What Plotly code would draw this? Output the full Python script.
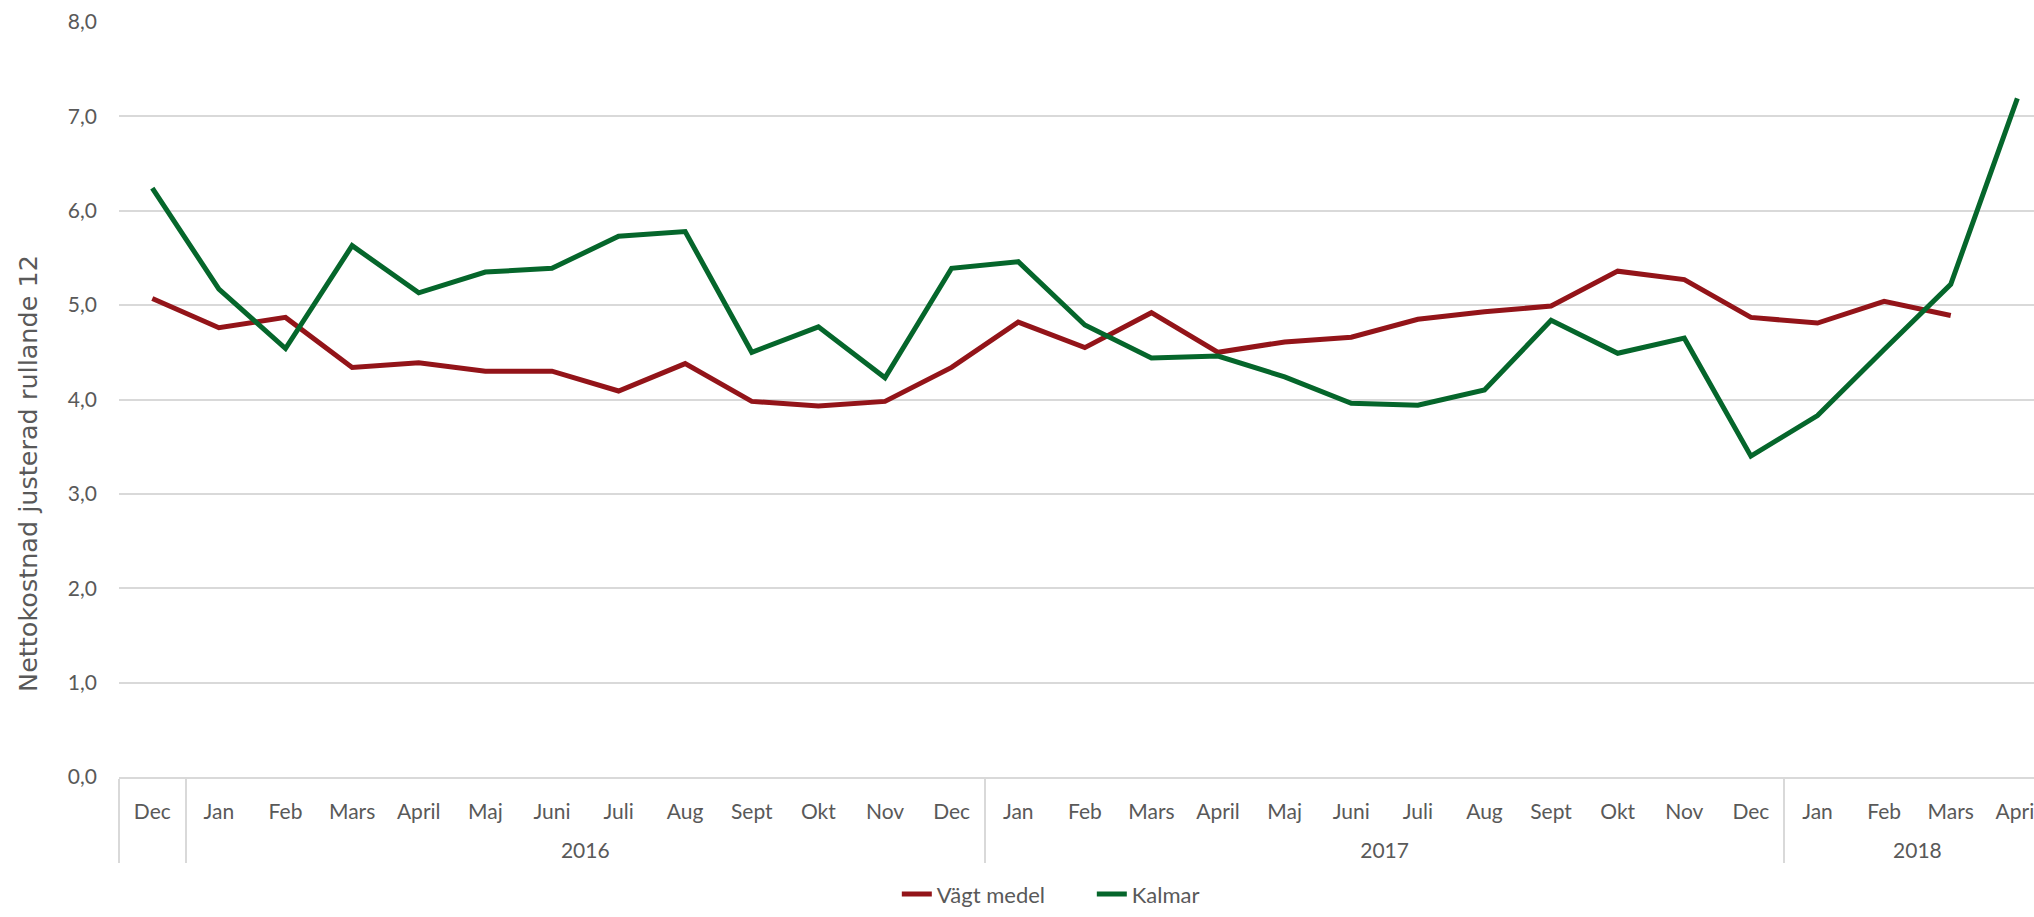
import plotly.graph_objects as go

years = [" "] + ["2016"] * 12 + ["2017"] * 12 + ["2018"] * 4
months = ["\u200bDec",
          "Jan", "Feb", "Mars", "April", "Maj", "Juni", "Juli", "Aug", "Sept", "Okt", "Nov", "Dec",
          "Jan", "Feb", "Mars", "April", "Maj", "Juni", "Juli", "Aug", "Sept", "Okt", "Nov", "Dec",
          "Jan", "Feb", "Mars", "April"]

vagt_medel = [5.07, 4.76, 4.87, 4.34, 4.39, 4.30, 4.30, 4.09, 4.38, 3.98, 3.93, 3.98, 4.34,
              4.82, 4.55, 4.92, 4.50, 4.61, 4.66, 4.85, 4.93, 4.99, 5.36, 5.27, 4.87,
              4.81, 5.04, 4.89, None]
kalmar = [6.24, 5.17, 4.54, 5.63, 5.13, 5.35, 5.39, 5.73, 5.78, 4.50, 4.77, 4.23, 5.39,
          5.46, 4.79, 4.44, 4.46, 4.24, 3.96, 3.94, 4.10, 4.84, 4.49, 4.65, 3.40,
          3.83, 4.53, 5.22, 7.19]

y_ticks = [0, 1, 2, 3, 4, 5, 6, 7, 8]

RED = "#931419"
GREEN = "#05662b"
TXT = "#595959"
GRID = "#d9d9d9"
NARROW = "Lato, 'Liberation Sans Narrow', sans-serif"
WIDE = "'DejaVu Sans', Verdana, sans-serif"

year_labels = ["<br>" + y for y in years]

fig = go.Figure()
fig.add_trace(go.Scatter(x=[year_labels, months], y=vagt_medel, name="Vägt medel", mode="lines",
                         line=dict(color=RED, width=5), connectgaps=False))
fig.add_trace(go.Scatter(x=[year_labels, months], y=kalmar, name="Kalmar", mode="lines",
                         line=dict(color=GREEN, width=5)))

fig.update_layout(
    width=2034, height=917,
    margin=dict(l=119, r=0, t=22, b=140),
    paper_bgcolor="white", plot_bgcolor="white",
    separators=", ",
    font=dict(family=NARROW, size=20, color=TXT),
    showlegend=True,
    legend=dict(orientation="h", x=0.508, xanchor="center", y=-0.183, yanchor="bottom",
                font=dict(family=NARROW, size=22, color=TXT),
                entrywidth=150, entrywidthmode="pixels"),
    annotations=[dict(text="Nettokostnad justerad rullande 12", textangle=-90,
                      xref="paper", yref="paper", x=-0.0473, y=0.402,
                      xanchor="center", yanchor="middle", showarrow=False,
                      font=dict(family=WIDE, size=25.5, color=TXT))],
)
fig.update_yaxes(range=[0, 8], tickvals=y_ticks, tickformat=".1f",
                 showgrid=True, gridcolor=GRID, gridwidth=1.5,
                 zeroline=False, showline=False, ticks="",
                 ticklabelstandoff=21, automargin=False,
                 tickfont=dict(family=NARROW, size=21, color=TXT))
fig.update_xaxes(type="multicategory", range=[-0.5, 28.25],
                 showline=True, linecolor=GRID, linewidth=1.5,
                 showgrid=False, ticks="", automargin=False,
                 ticklabelstandoff=15,
                 showdividers=True, dividercolor=GRID, dividerwidth=1.5,
                 tickfont=dict(family=NARROW, size=21, color=TXT))

fig.write_html("out.html", config={"displayModeBar": False},
               post_script="document.body.style.margin='0px';")
